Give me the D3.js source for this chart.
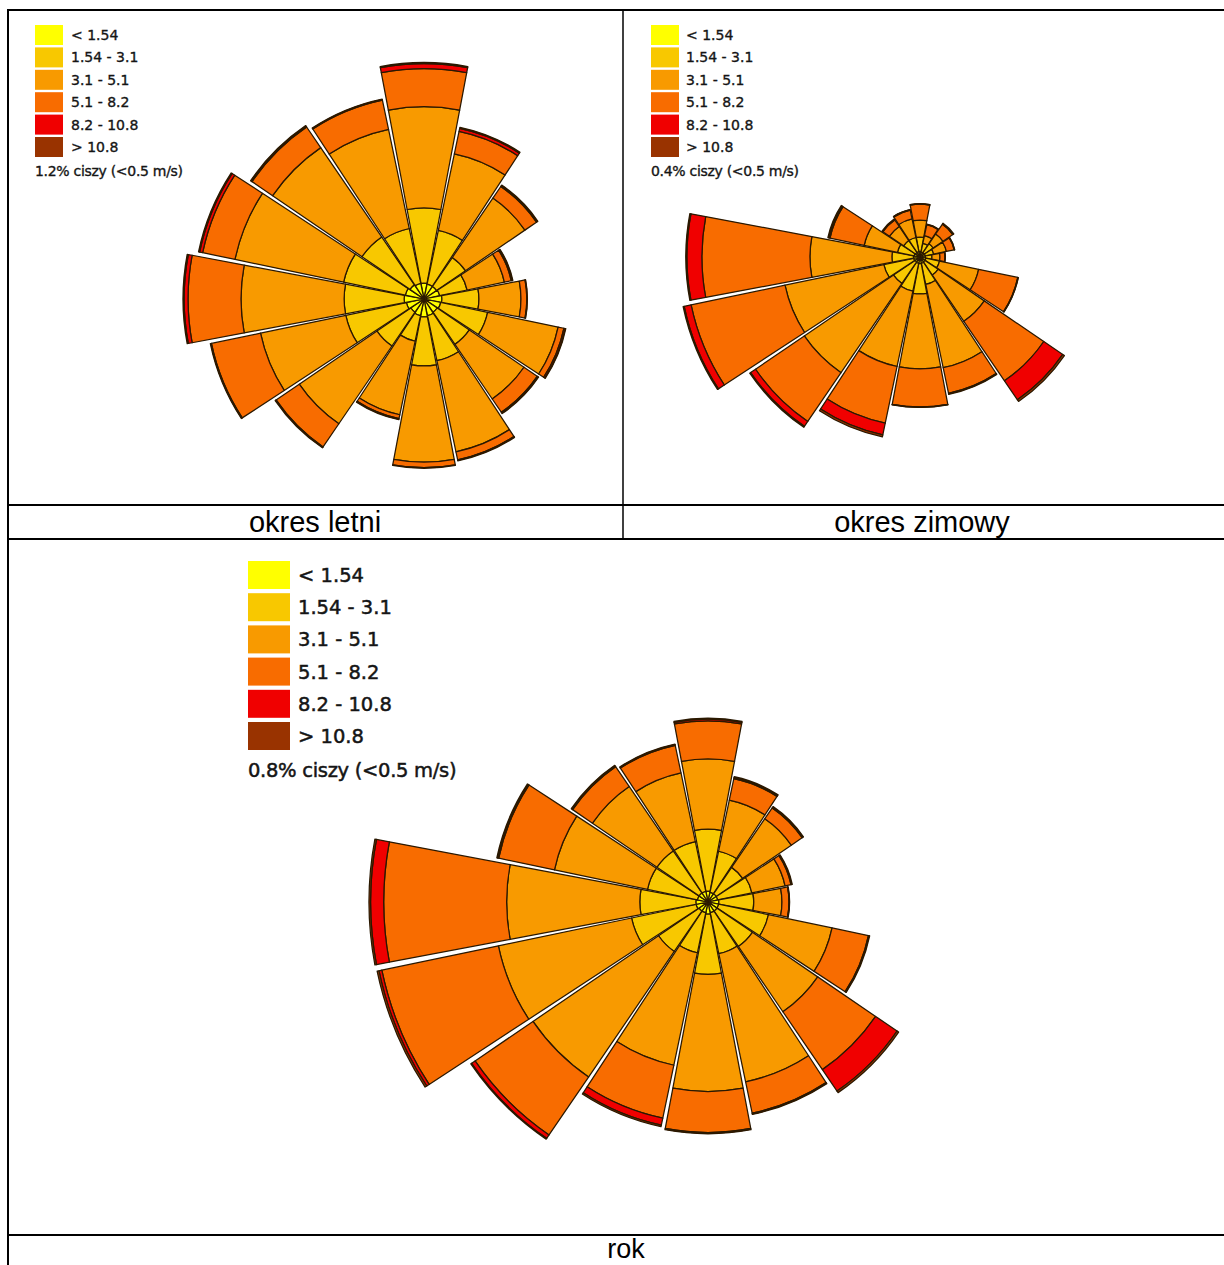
<!DOCTYPE html>
<html><head><meta charset="utf-8">
<script src="https://cdn.jsdelivr.net/npm/d3@7"></script>
<style>body{margin:0;background:#fff} svg{display:block}</style>
</head><body>
<svg id="c" width="1224" height="1265"></svg>
<script>
// ---------- DATA (frequency %, per direction, per wind-speed class) ----------
const directions = ["N","NNE","NE","ENE","E","ESE","SE","SSE","S","SSW","SW","WSW","W","WNW","NW","NNW"];
const speedClasses = ["< 1.54","1.54 - 3.1","3.1 - 5.1","5.1 - 8.2","8.2 - 10.8","> 10.8"];
const classColors = ["#FFFF00","#F8C800","#F89A00","#F86C00","#F00000","#993300"];

// okres letni (summer)
const summerCalm = 1.2;
const summer_lt154   = [0.57,0.54,0.54,0.57,0.64,0.61,0.57,0.61,0.64,0.61,0.57,0.64,0.71,0.68,0.61,0.57];
const summer_154_31  = [2.68,1.96,1.25,1.00,1.32,1.71,1.39,1.64,1.75,0.93,1.46,2.21,2.14,2.25,2.07,2.00];
const summer_31_51   = [3.61,2.79,2.57,1.36,1.50,2.57,2.36,3.32,3.43,2.68,3.36,3.11,3.68,3.96,3.86,3.61];
const summer_51_82   = [1.36,0.82,0.50,0.25,0.21,0.21,0.57,0.29,0.20,0.14,1.00,1.79,1.89,1.18,0.89,1.07];
const summer_82_108  = [0.18,0.11,0.04,0.04,0.01,0.05,0.04,0.02,0.02,0.02,0.02,0.02,0.14,0.11,0.04,0.02];
const summer_gt108   = [0.04,0.04,0.02,0.02,0.01,0.02,0.02,0.02,0.00,0.02,0.02,0.02,0.04,0.04,0.02,0.02];

// okres zimowy (winter)
const winterCalm = 0.4;
const winter_lt154   = [0.30,0.28,0.28,0.30,0.30,0.33,0.33,0.36,0.36,0.36,0.33,0.36,0.36,0.33,0.30,0.30];
const winter_154_31  = [0.80,0.49,0.60,0.47,0.36,0.77,0.88,1.19,1.68,1.57,1.44,1.68,1.19,0.94,0.80,0.80];
const winter_31_51   = [0.94,0.44,0.66,0.72,0.44,2.21,3.09,4.70,4.14,4.25,5.97,5.58,4.53,1.88,0.94,1.05];
const winter_51_82   = [0.88,0.61,0.66,0.44,0.28,2.21,3.98,1.44,2.10,3.20,3.26,5.30,5.97,1.93,0.44,0.50];
const winter_82_108  = [0.02,0.02,0.02,0.02,0.01,0.02,1.27,0.03,0.02,0.66,0.33,0.39,0.83,0.06,0.03,0.02];
const winter_gt108   = [0.01,0.01,0.04,0.01,0.01,0.01,0.11,0.03,0.01,0.11,0.06,0.06,0.06,0.06,0.03,0.01];

// rok (whole year)
const yearCalm = 0.8;
const year_lt154     = [0.34,0.31,0.31,0.31,0.34,0.34,0.34,0.34,0.38,0.34,0.34,0.38,0.38,0.34,0.34,0.34];
const year_154_31    = [1.94,1.31,1.00,1.09,1.09,1.59,1.34,1.31,1.88,1.28,1.53,2.06,1.75,1.59,1.59,1.59];
const year_31_51     = [2.19,1.63,1.84,1.06,0.88,2.03,2.47,4.09,3.66,3.59,4.75,4.25,4.16,2.97,2.44,2.19];
const year_51_82     = [1.19,0.69,0.41,0.19,0.22,1.16,2.19,1.00,1.28,1.69,2.19,3.72,3.84,1.78,0.75,0.88];
const year_82_108    = [0.05,0.03,0.03,0.02,0.01,0.02,0.81,0.02,0.02,0.22,0.13,0.09,0.41,0.03,0.03,0.02];
const year_gt108     = [0.03,0.03,0.02,0.02,0.01,0.02,0.06,0.02,0.02,0.05,0.03,0.06,0.05,0.03,0.02,0.02];

const captions = ["okres letni","okres zimowy","rok"];

// ---------- DRAWING ----------
const svg = d3.select("#c");
const FONT_LEG = "'DejaVu Sans', Verdana, sans-serif";
const FONT_CAP = "'Liberation Sans', Arial, sans-serif";

function drawRose(bins, cx, cy, maxR) {
  const g = svg.append("g").attr("transform", `translate(${cx},${cy})`);
  const totals = directions.map((d, i) => d3.sum(bins, b => b[i]));
  const r = d3.scaleLinear().domain([0, d3.max(totals)]).range([0, maxR]);
  const angle = d3.scaleBand().domain(directions).range([-Math.PI/16, 2*Math.PI - Math.PI/16]).paddingInner(0.05).paddingOuter(0.025);
  const arc = d3.arc();
  const segs = [];
  directions.forEach((d, i) => {
    let cum = 0;
    bins.forEach((b, k) => {
      const inner = cum; cum += b[i];
      if (b[i] <= 0) return;
      segs.push({d, k, inner, outer: cum});
    });
  });
  g.selectAll("path").data(segs).join("path")
    .attr("d", s => arc({
      innerRadius: r(s.inner), outerRadius: r(s.outer),
      startAngle: angle(s.d), endAngle: angle(s.d) + angle.bandwidth()
    }))
    .attr("fill", s => classColors[s.k])
    .attr("stroke", "#2a1800")
    .attr("stroke-width", 1.25)
    .attr("stroke-linejoin", "round");
}

function drawLegend(x, y, sw, sh, step, fs, tx, calm) {
  const g = svg.append("g");
  const sw2 = fs > 16 ? 0.5 : 0.35;
  speedClasses.forEach((c, k) => {
    g.append("rect").attr("x", x).attr("y", y + k*step).attr("width", sw).attr("height", sh)
      .attr("fill", classColors[k]);
    g.append("text").attr("x", tx).attr("y", y + k*step + sh/2)
      .attr("dy", "0.36em").attr("font-family", FONT_LEG).attr("font-size", fs)
      .attr("fill", "#151515").attr("stroke", "#151515").attr("stroke-width", sw2).text(c);
  });
  g.append("text").attr("x", x).attr("y", y + 6*step + sh/2 + step*0.05)
    .attr("dy", "0.36em").attr("font-family", FONT_LEG).attr("font-size", fs)
    .attr("fill", "#151515").attr("stroke", "#151515").attr("stroke-width", sw2)
    .attr("letter-spacing", "-0.3")
    .text(`${calm}% ciszy (<0.5 m/s)`);
}

// table lines
const lines = [
  [8, 10, 1224, 10, 2], [8, 9, 8, 1265, 2], [623, 10, 623, 539, 1.5],
  [8, 505, 1224, 505, 2], [8, 539, 1224, 539, 2], [8, 1235, 1224, 1235, 2]
];
svg.selectAll("line.t").data(lines).join("line").attr("class","t")
  .attr("x1", d=>d[0]).attr("y1", d=>d[1]).attr("x2", d=>d[2]).attr("y2", d=>d[3])
  .attr("stroke", "#000").attr("stroke-width", d=>d[4]);

drawRose([summer_lt154, summer_154_31, summer_31_51, summer_51_82, summer_82_108, summer_gt108], 424, 299, 241);
drawRose([winter_lt154, winter_154_31, winter_31_51, winter_51_82, winter_82_108, winter_gt108], 920, 257, 242);
drawRose([year_lt154, year_154_31, year_31_51, year_51_82, year_82_108, year_gt108], 708, 902, 339);

drawLegend(35, 25, 28, 20, 22.4, 14, 71, summerCalm);
drawLegend(651, 25, 28, 20, 22.4, 14, 686, winterCalm);
drawLegend(248, 561, 42, 28, 32.2, 19.5, 298, yearCalm);

const capPos = [[315, 532], [922, 532], [626, 1258]];
captions.forEach((c, i) => {
  svg.append("text").attr("x", capPos[i][0]).attr("y", capPos[i][1])
    .attr("text-anchor", "middle").attr("font-family", FONT_CAP).attr("font-size", i === 2 ? 27 : 29)
    .attr("fill", "#000").text(c);
});
</script>
</body></html>
